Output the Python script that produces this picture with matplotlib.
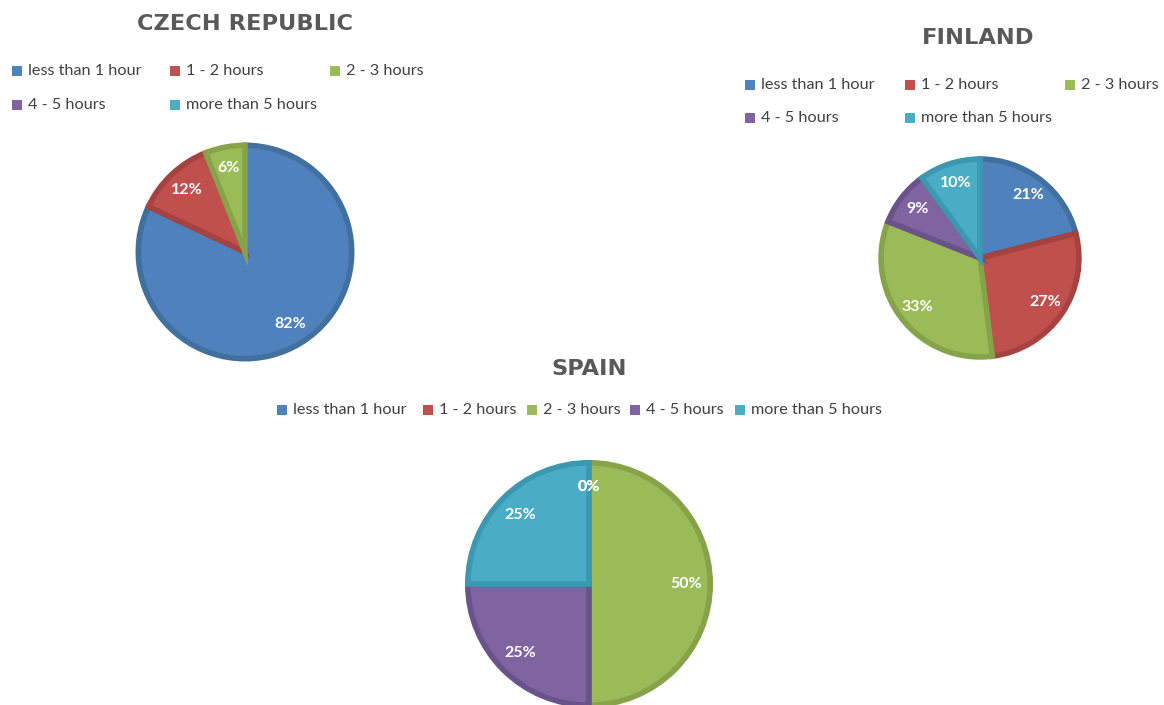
import matplotlib.pyplot as plt
from matplotlib.patches import Rectangle

W, H = 1164, 705

categories = ['less than 1 hour', '1 - 2 hours', '2 - 3 hours', '4 - 5 hours', 'more than 5 hours']
czech = [82, 12, 6, 0, 0]
finland = [21, 27, 33, 9, 10]
spain = [0, 0, 50, 25, 25]

fills = ['#4F81BD', '#C0504D', '#9BBB59', '#8064A2', '#4BACC6']
edges = ['#41709F', '#A6423F', '#86A34A', '#6A528A', '#3C97B0']

plt.rcParams['font.family'] = ['Lato', 'DejaVu Sans']
fig = plt.figure(figsize=(W / 100, H / 100), dpi=100)
fig.patch.set_facecolor('white')


def fx(px):
    return px / W


def fy(py):
    return 1 - py / H


def draw_pie(values, cx, cy, r, show_zero):
    ax = fig.add_axes([fx(cx - r), fy(cy + r), 2 * r / W, 2 * r / H])
    vals = iter(values)

    def fmt(p):
        v = next(vals)
        if v == 0 and not show_zero:
            return ''
        return f'{v:.0f}%'

    wedges, _, autotexts = ax.pie(values, colors=fills, startangle=90, counterclock=False,
                                  radius=0.97, autopct=fmt, pctdistance=0.8,
                                  wedgeprops=dict(linewidth=4))
    ax.set_xlim(-1, 1)
    ax.set_ylim(-1, 1)
    ax.axis('off')
    for w, e, v in zip(wedges, edges, values):
        w.set_edgecolor(e)
        w.set_clip_on(False)
        if v == 0:
            w.set_linewidth(0)
    for t in autotexts:
        t.set_color('white')
        t.set_fontweight('bold')
        t.set_fontsize(11.5)
    return ax


def draw_legend(xs, ys, ncol):
    for i, lab in enumerate(categories):
        x = xs[i % ncol]
        y = ys[i // ncol]
        fig.patches.append(Rectangle((fx(x), fy(y + 5)), 10 / W, 10 / H, transform=fig.transFigure,
                                     facecolor=fills[i], edgecolor='none'))
        fig.text(fx(x + 16), fy(y), lab, fontsize=11.7, color='#404040', va='center', ha='left')


def title(txt, x, y):
    fig.text(fx(x), fy(y), txt, fontsize=16.2, fontweight='bold', color='#595959',
             ha='center', va='center', family=['DejaVu Sans'])


# Czech Republic
title('CZECH REPUBLIC', 245, 24)
draw_legend([12, 170, 330], [71, 105], 3)
draw_pie(czech, 245, 252, 110, False)

# Finland
title('FINLAND', 978, 38)
draw_legend([745, 905, 1065], [85, 118], 3)
draw_pie(finland, 980, 258, 102, False)

# Spain
title('SPAIN', 589, 369)
draw_legend([277, 423, 527, 630, 735], [410], 5)
draw_pie(spain, 589, 584, 125, True)

fig.savefig('out.png', dpi=100)
